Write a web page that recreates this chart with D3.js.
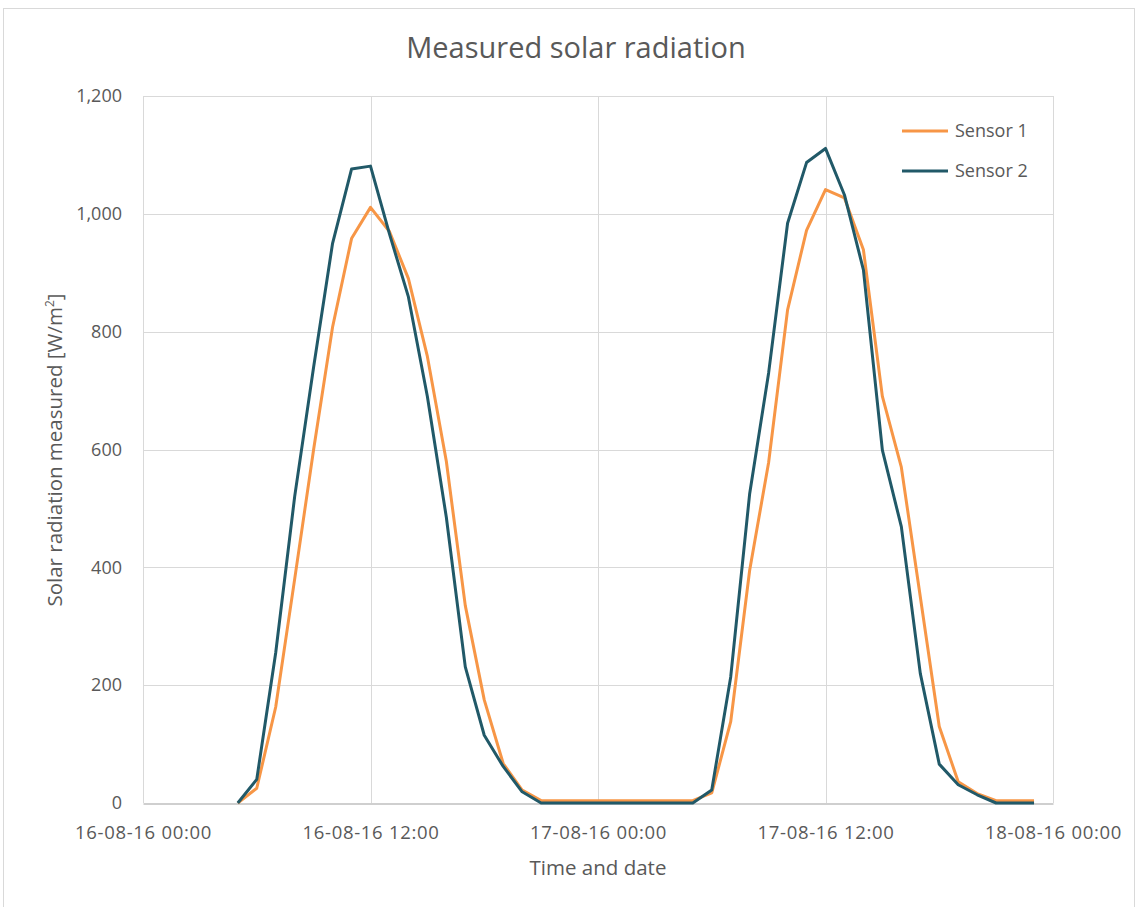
<!DOCTYPE html>
<html>
<head>
<meta charset="utf-8">
<script src="https://cdn.jsdelivr.net/npm/d3@7"></script>
<style>
  html, body { margin: 0; padding: 0; background: #ffffff; }
  svg { display: block; }
  text { font-family: "Open Sans", "Noto Sans", sans-serif; fill: #595959; }
</style>
</head>
<body>
<svg id="chart" width="1139" height="907"></svg>
<script>
// Hourly readings from 16-08-16 05:00 to 17-08-16 23:00 (W/m²)
const startTime = new Date(2016, 7, 16, 5, 0);
const endTime = new Date(2016, 7, 18, 0, 0);
const times = d3.timeHour.range(startTime, endTime);

const sensor1 = [
  0, 25, 163, 380, 600, 808, 958, 1011, 970, 890, 758, 580, 335, 175, 67, 22,
  4, 4, 4, 4, 4, 4, 4, 4, 4,
  17, 138, 395, 578, 837, 972, 1041, 1027, 939, 690, 570, 350, 130, 36, 16,
  4, 4, 4
];
const sensor2 = [
  0, 40, 255, 520, 740, 950, 1076, 1081, 966, 859, 690, 485, 231, 115, 62, 19,
  0, 0, 0, 0, 0, 0, 0, 0, 0,
  22, 214, 525, 730, 984, 1087, 1111, 1032, 905, 599, 469, 220, 66, 31, 14,
  0, 0, 0
];

const seriesNames = ["Sensor 1", "Sensor 2"];
const seriesColors = ["#F79646", "#215968"];
const yTicks = [0, 200, 400, 600, 800, 1000, 1200];
const xDomain = [new Date(2016, 7, 16, 0, 0), new Date(2016, 7, 18, 0, 0)];

const chartTitle = "Measured solar radiation";
const xTitle = "Time and date";

const svg = d3.select("#chart");
const plot = { left: 143, right: 1053, top: 96, bottom: 803 };

// outer chart frame
svg.append("rect")
  .attr("x", 3.5).attr("y", 8.5)
  .attr("width", 1131).attr("height", 910)
  .attr("fill", "#ffffff")
  .attr("stroke", "#d9d9d9").attr("stroke-width", 1);

const x = d3.scaleTime().domain(xDomain).range([plot.left, plot.right]);
const y = d3.scaleLinear().domain([0, 1200]).range([plot.bottom, plot.top]);
const xTicks = d3.timeHour.every(12).range(xDomain[0], d3.timeHour.offset(xDomain[1], 1));

// horizontal gridlines
svg.append("g")
  .selectAll("line")
  .data(yTicks.filter(d => d > 0))
  .join("line")
  .attr("x1", plot.left).attr("x2", plot.right)
  .attr("y1", d => Math.round(y(d)) + 0.5).attr("y2", d => Math.round(y(d)) + 0.5)
  .attr("stroke", "#d9d9d9").attr("stroke-width", 1);

// vertical gridlines
svg.append("g")
  .selectAll("line")
  .data(xTicks)
  .join("line")
  .attr("x1", d => Math.round(x(d)) + 0.5).attr("x2", d => Math.round(x(d)) + 0.5)
  .attr("y1", plot.top).attr("y2", plot.bottom)
  .attr("stroke", "#d9d9d9").attr("stroke-width", 1);

// x axis
const xAxis = d3.axisBottom(x)
  .tickValues(xTicks)
  .tickFormat(d3.timeFormat("%d-%m-%y %H:%M"))
  .tickSize(0).tickPadding(22);
const gx = svg.append("g")
  .attr("transform", `translate(0,${Math.round(plot.bottom) + 0.5})`)
  .call(xAxis);
gx.select(".domain").attr("stroke", "#bfbfbf").attr("stroke-width", 1.3);
gx.selectAll("text")
  .style("font-family", "'Open Sans', sans-serif")
  .style("font-size", "18.5px")
  .style("letter-spacing", "0.7px")
  .attr("fill", "#595959");

// y axis
const yAxis = d3.axisLeft(y)
  .tickValues(yTicks)
  .tickFormat(d3.format(","))
  .tickSize(0).tickPadding(21);
const gy = svg.append("g")
  .attr("transform", `translate(${plot.left},0)`)
  .call(yAxis);
gy.select(".domain").remove();
gy.selectAll("text")
  .style("font-family", "'Open Sans', sans-serif")
  .style("font-size", "18px").attr("fill", "#595959");

// series lines
const line = d3.line()
  .x((d, i) => x(times[i]))
  .y(d => y(d));

[sensor1, sensor2].forEach((values, k) => {
  svg.append("path")
    .datum(values)
    .attr("fill", "none")
    .attr("stroke", seriesColors[k])
    .attr("stroke-width", 3)
    .attr("stroke-linejoin", "round")
    .attr("d", line);
});

// title
svg.append("text")
  .attr("x", 576).attr("y", 58)
  .attr("text-anchor", "middle")
  .style("font-size", "29px")
  .text(chartTitle);

// x axis title
svg.append("text")
  .attr("x", 598).attr("y", 875)
  .attr("text-anchor", "middle")
  .style("font-size", "20.5px")
  .text(xTitle);

// y axis title with superscript
const yt = svg.append("text")
  .attr("transform", "translate(62,450) rotate(-90)")
  .attr("text-anchor", "middle")
  .style("font-size", "20.5px");
yt.append("tspan").text("Solar radiation measured [W/m");
yt.append("tspan").attr("dy", -8).style("font-size", "12px").text("2");
yt.append("tspan").attr("dy", 8).text("]");

// legend
const legend = svg.append("g");
seriesNames.forEach((name, k) => {
  const ly = 131 + k * 40;
  legend.append("line")
    .attr("x1", 902).attr("x2", 948)
    .attr("y1", ly).attr("y2", ly)
    .attr("stroke", seriesColors[k]).attr("stroke-width", 3);
  legend.append("text")
    .attr("x", 955).attr("y", ly + 6)
    .style("font-size", "18px")
    .text(name);
});
</script>
</body>
</html>
